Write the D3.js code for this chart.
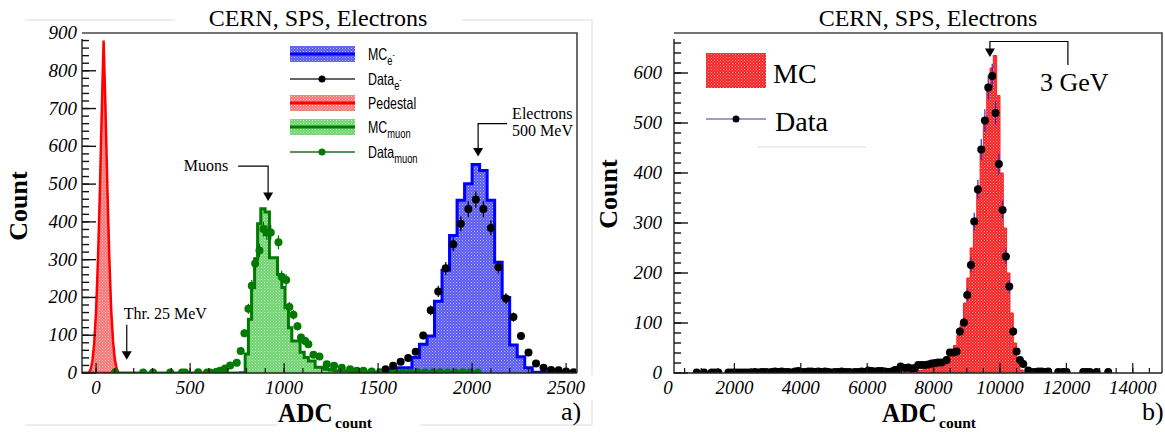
<!DOCTYPE html>
<html>
<head>
<meta charset="utf-8">
<title>CERN, SPS, Electrons</title>
<script src="https://cdn.jsdelivr.net/npm/d3@7/dist/d3.min.js"></script>
<style>
  html, body { margin: 0; padding: 0; background: #fff; }
  svg { display: block; }
</style>
</head>
<body>
<svg id="chart" width="1165" height="432"></svg>
<script>
// ---- panel a) : 500 MeV electrons, muons, pedestal ----
const xTicksA = [0, 500, 1000, 1500, 2000, 2500];
const yTicksA = [0, 100, 200, 300, 400, 500, 600, 700, 800, 900];

const pedestalAdc   = [-40, -30, -20, -10, 0, 10, 20, 30, 40, 50, 60, 70, 80, 90, 100, 110, 120];
const pedestalCount = [0, 8, 30, 80, 165, 300, 480, 690, 880, 700, 490, 310, 170, 85, 35, 10, 0];

// MC muon histogram, variable bin edges
const muonMcEdges = [-75, 793, 810, 827, 843, 859, 876, 899, 922, 943, 965, 988, 1005, 1023, 1041, 1063,
  1085, 1107, 1129, 1147, 1165, 1190, 1215, 1240, 1265, 1300, 1350, 1400, 1450, 1500, 1550, 1600, 2050];
const muonMcCount = [0, 50, 142, 226, 302, 395, 435, 426, 305, 305, 261, 226, 173, 120, 85, 85,
  55, 41, 32, 32, 15, 15, 10, 8, 6, 5, 4, 3, 2, 2, 1, 0];

const muonDataAdc = [101, 250, 303, 394, 457, 473, 543, 590, 606, 640, 660, 686, 713, 748, 769, 789, 810, 828,
  846, 869, 890, 908, 929, 970, 987, 1011, 1028, 1050, 1071, 1090, 1112, 1129, 1156, 1188, 1227, 1266, 1307,
  1351, 1387, 1422, 1466, 1510, 1550, 1590, 1630, 1670, 1710, 1750, 1790, 1830, 1870, 1910, 1950, 1990, 2030];
const muonDataCount = [2, 1, 1, 1, 1, 1, 2, 1, 1, 3, 6, 12, 20, 27, 58, 105, 170, 231,
  290, 324, 381, 372, 372, 346, 255, 246, 175, 154, 124, 94, 85, 76, 48, 44, 23, 19, 14,
  10, 6, 6, 4, 2, 1, 2, 1, 1, 2, 1, 1, 2, 1, 1, 2, 1, 1];

// MC electrons, 40 ADC bins
const eMcEdges = [760, 800, 840, 880, 920, 960, 1000, 1040, 1080, 1120, 1160, 1200, 1240, 1280, 1320, 1360,
  1400, 1440, 1480, 1520, 1560, 1600, 1640, 1680, 1720, 1760, 1800, 1840, 1880, 1920, 1960, 2000, 2040,
  2080, 2120, 2160, 2200, 2240, 2280, 2320, 2360, 2400, 2440, 2480, 2520, 2560];
const eMcCount = [0, 0, 0, 0, 0, 0, 0, 0, 0, 0, 0, 0, 0, 0, 0, 0, 0, 0,
  0, 1, 10, 14, 14, 41, 76, 98, 190, 272, 364, 457, 501, 552, 536,
  457, 293, 200, 74, 43, 14, 2, 1, 0, 0, 0, 0];

const eDataAdc = [1540, 1580, 1620, 1660, 1700, 1740, 1780, 1820, 1860, 1900, 1940, 1980, 2020,
  2060, 2100, 2140, 2180, 2220, 2260, 2300, 2340, 2380, 2420, 2460, 2500, 2540];
const eDataCount = [10, 19, 30, 40, 56, 99, 166, 216, 277, 341, 395, 434, 459,
  434, 384, 280, 197, 148, 98, 54, 25, 14, 8, 7, 4, 2];

// ---- panel b) : 3 GeV electrons ----
const xTicksB = [0, 2000, 4000, 6000, 8000, 10000, 12000, 14000];
const yTicksB = [0, 100, 200, 300, 400, 500, 600];

const mcEdgesB = [7000, 7100, 7200, 7300, 7400, 7500, 7600, 7700, 7800, 7900, 8000, 8100, 8200, 8300,
  8400, 8500, 8600, 8700, 8800, 8900, 9000, 9100, 9200, 9300, 9400, 9500, 9600, 9700, 9800, 9900,
  10000, 10100, 10200, 10300, 10400, 10500, 10600, 10700, 10800];
const mcCountB = [2, 3, 3, 4, 4, 5, 6, 8, 9, 11, 13, 16, 20, 26,
  33, 40, 55, 75, 100, 140, 190, 250, 310, 375, 450, 510, 570, 610, 635, 555,
  400, 290, 200, 120, 60, 25, 6, 1];

const dataAdcB = [863, 1084, 1315, 1415, 1516, 1817, 1917, 2017, 2117, 2218, 2318, 2418, 2519, 2619, 2720,
  2820, 2921, 3021, 3122, 3222, 3322, 3423, 3523, 3624, 3724, 3825, 3925, 4026, 4126, 4226, 4327, 4427,
  4527, 4628, 4728, 4828, 4929, 5029, 5130, 5230, 5330, 5431, 5531, 5632, 5732, 5832, 5932, 6033, 6133,
  6233, 6334, 6434, 6534, 6635, 6735, 6835, 6936, 7006, 7137, 7237, 7338, 7438, 7538, 7638, 7738, 7839,
  7939, 8040, 8140, 8241, 8391, 8491, 8592, 8692, 8792, 8913, 9013, 9124, 9224, 9334, 9435, 9545, 9646,
  9766, 9867, 9967, 10078, 10178, 10279, 10398, 10500, 10600, 10700, 10851, 10951, 11052, 11152, 11252,
  11353, 11453, 11754, 11854, 11904, 12005, 12507, 12607, 12708, 12909, 13260];
const dataCountB = [1, 1, 1, 1, 1, 1, 1, 1, 1, 1, 1, 1, 1, 2, 1,
  2, 2, 1, 2, 3, 2, 3, 2, 2, 1, 3, 4, 2, 2, 3, 3, 2,
  3, 2, 3, 2, 1, 2, 2, 3, 2, 2, 1, 2, 2, 3, 2, 5, 4,
  3, 4, 4, 3, 2, 3, 6, 5, 13, 10, 11, 9, 10, 16, 16, 16, 17,
  19, 20, 21, 21, 26, 41, 41, 43, 83, 101, 156, 216, 303, 367, 447, 505, 571,
  594, 520, 418, 326, 233, 173, 83, 43, 26, 18, 5, 2, 2, 3, 3,
  2, 3, 2, 1, 2, 2, 2, 2, 2, 2, 2];

const serif = "'Liberation Serif', 'Times New Roman', serif";
const sans = "'Liberation Sans', Arial, sans-serif";

const svg = d3.select('#chart');
const defs = svg.append('defs');

// sparse white dots laid over a solid fill, like ROOT's dotted fill style
const dots = defs.append('pattern').attr('id', 'dots')
  .attr('patternUnits', 'userSpaceOnUse').attr('width', 3).attr('height', 3);
dots.append('rect').attr('x', 0).attr('y', 0).attr('width', 1).attr('height', 1)
  .attr('fill', '#fff').attr('fill-opacity', 0.55);
dots.append('rect').attr('x', 1.5).attr('y', 1.5).attr('width', 1).attr('height', 1)
  .attr('fill', '#fff').attr('fill-opacity', 0.35);

function filled(parent, d, color, stroke, sw) {
  parent.append('path').attr('d', d).attr('fill', color);
  parent.append('path').attr('d', d).attr('fill', 'url(#dots)');
  if (stroke) parent.append('path').attr('d', d).attr('fill', 'none')
    .attr('stroke', stroke).attr('stroke-width', sw);
}

function stepPath(edges, counts, x, y) {
  let d = 'M' + x(edges[0]) + ',' + y(0);
  counts.forEach((c, i) => {
    d += 'L' + x(edges[i]) + ',' + y(c) + 'L' + x(edges[i + 1]) + ',' + y(c);
  });
  return d + 'L' + x(edges[edges.length - 1]) + ',' + y(0);
}

function makePanel(id, box, xDomain, yDomain) {
  const x = d3.scaleLinear().domain(xDomain).range([box.left, box.right]);
  const y = d3.scaleLinear().domain(yDomain).range([box.bottom, box.top]);
  defs.append('clipPath').attr('id', id).append('rect')
    .attr('x', box.left).attr('y', box.top - 2)
    .attr('width', box.right - box.left).attr('height', box.bottom - box.top + 2);
  const g = svg.append('g');
  const plot = g.append('g').attr('clip-path', 'url(#' + id + ')');
  return { x, y, g, plot, box };
}

function drawPoints(p, xs, ys, fill, errColor, r) {
  const pts = xs.map((v, i) => [v, ys[i]]);
  p.plot.append('g').selectAll('line').data(pts).enter().append('line')
    .attr('x1', d => p.x(d[0])).attr('x2', d => p.x(d[0]))
    .attr('y1', d => p.y(Math.max(0, d[1] - Math.sqrt(d[1]))))
    .attr('y2', d => p.y(d[1] + Math.sqrt(d[1])))
    .attr('stroke', errColor).attr('stroke-width', 1.2);
  p.plot.append('g').selectAll('circle').data(pts).enter().append('circle')
    .attr('cx', d => p.x(d[0])).attr('cy', d => p.y(d[1])).attr('r', r)
    .attr('fill', fill);
}

function drawAxes(p, xMajor, xMinorStep, yMajor, yMinorStep, labelGap) {
  const { x, y, g, box } = p;
  const [x0, x1] = x.domain(), [y0, y1] = y.domain();
  // minor ticks
  d3.range(Math.ceil(x0 / xMinorStep) * xMinorStep, x1, xMinorStep).forEach(v => {
    g.append('line').attr('x1', x(v)).attr('x2', x(v)).attr('y1', box.bottom).attr('y2', box.bottom - 5)
      .attr('stroke', '#111').attr('stroke-width', 1.2);
  });
  d3.range(y0, y1, yMinorStep).forEach(v => {
    g.append('line').attr('x1', box.left).attr('x2', box.left + 7).attr('y1', y(v)).attr('y2', y(v))
      .attr('stroke', '#111').attr('stroke-width', 1.4);
  });
  xMajor.filter(v => v > x0 && v < x1).forEach(v => {
    g.append('line').attr('x1', x(v)).attr('x2', x(v)).attr('y1', box.bottom).attr('y2', box.bottom - 10)
      .attr('stroke', '#111').attr('stroke-width', 1.2);
  });
  yMajor.filter(v => v < y1).forEach(v => {
    g.append('line').attr('x1', box.left).attr('x2', box.left + 14).attr('y1', y(v)).attr('y2', y(v))
      .attr('stroke', '#111').attr('stroke-width', 1.4);
  });
  // frame
  g.append('path')
    .attr('d', 'M' + box.left + ',' + box.top + 'H' + box.right + 'V' + box.bottom)
    .attr('fill', 'none').attr('stroke', '#474747').attr('stroke-width', 1.6);
  g.append('path')
    .attr('d', 'M' + box.left + ',' + (box.top + 6) + 'V' + box.bottom + 'H' + box.right)
    .attr('fill', 'none').attr('stroke', '#222').attr('stroke-width', 1.4);
  // labels
  g.append('g').selectAll('text').data(xMajor).enter().append('text')
    .attr('x', d => x(d)).attr('y', box.bottom + 21)
    .attr('text-anchor', 'middle').attr('font-family', serif).attr('font-style', 'italic')
    .attr('font-size', 19).text(d => d);
  g.append('g').selectAll('text').data(yMajor).enter().append('text')
    .attr('x', box.left - labelGap).attr('y', d => y(d) + 6)
    .attr('text-anchor', 'end').attr('font-family', serif).attr('font-style', 'italic')
    .attr('font-size', 19).text(d => d);
}

function arrowHead(g, tx, ty) {
  g.append('path').attr('d', 'M' + (tx - 5) + ',' + (ty - 8.5) + 'H' + (tx + 5) + 'L' + tx + ',' + ty + 'Z')
    .attr('fill', '#000');
}

function axisTitles(g, box, countX, countY, labelX, tagX, tag) {
  g.append('text').attr('transform', 'translate(' + countX + ',' + countY + ') rotate(-90)')
    .attr('text-anchor', 'middle').attr('font-family', serif).attr('font-weight', 'bold')
    .attr('font-size', 26).text('Count');
  const t = g.append('g').attr('transform', 'translate(' + labelX + ',422)');
  t.append('text').attr('transform', 'scale(0.9,1)').attr('font-family', serif)
    .attr('font-weight', 'bold').attr('font-size', 28).text('ADC');
  t.append('text').attr('x', 57).attr('y', 6).attr('font-family', serif)
    .attr('font-weight', 'bold').attr('font-size', 15.5).text('count');
  g.append('text').attr('x', tagX).attr('y', 420).attr('font-family', serif)
    .attr('font-size', 26).text(tag);
}

// faint frame remnants from the original page
[[25, 20, 175, 20], [462, 20, 592, 20], [592, 20, 592, 375], [592, 400, 592, 425],
 [25, 425, 277, 425], [420, 425, 592, 425], [757, 147, 866, 147]].forEach(l => {
  svg.append('line').attr('x1', l[0]).attr('y1', l[1]).attr('x2', l[2]).attr('y2', l[3])
    .attr('stroke', '#dcdcdc').attr('stroke-width', 1);
});

// ================= panel a =================
const A = makePanel('clipA', { left: 82, right: 577, top: 33, bottom: 373 }, [-75, 2558], [0, 900]);

filled(A.plot, stepPath(eMcEdges, eMcCount, A.x, A.y), '#5c5cf2', '#0000ff', 3);
filled(A.plot, stepPath(muonMcEdges, muonMcCount, A.x, A.y), '#72d472', '#007a00', 3);
const pedArea = d3.area().x((d, i) => A.x(pedestalAdc[i])).y0(A.y(0)).y1(d => A.y(d));
filled(A.plot, pedArea(pedestalCount), '#f27a7a', '#ff0000', 2.5);
drawPoints(A, muonDataAdc, muonDataCount, '#007a00', '#006400', 4);
drawPoints(A, eDataAdc, eDataCount, '#000', '#000', 4);

drawAxes(A, xTicksA, 100, yTicksA, 20, 5);

svg.append('text').attr('x', 318).attr('y', 26).attr('text-anchor', 'middle')
  .attr('font-family', serif).attr('font-size', 24).text('CERN, SPS, Electrons');
axisTitles(svg, A.box, 27, 206, 278, 561, 'a)');

// annotations, panel a
(function () {
  const g = svg.append('g').attr('fill', 'none').attr('stroke', '#000').attr('stroke-width', 1.2);
  const t = svg.append('g').attr('font-family', serif).attr('font-size', 16);
  // Muons
  let tx = A.x(915), ty = A.y(455);
  g.append('path').attr('d', 'M' + (tx - 30) + ',' + (ty - 35) + 'H' + tx + 'V' + (ty - 8));
  arrowHead(svg, tx, ty);
  t.append('text').attr('x', tx - 40).attr('y', ty - 30).attr('text-anchor', 'end').text('Muons');
  // Electrons 500 MeV
  tx = A.x(2032); ty = A.y(573);
  g.append('path').attr('d', 'M' + (tx + 29) + ',' + (ty - 33) + 'H' + tx + 'V' + (ty - 8));
  arrowHead(svg, tx, ty);
  t.append('text').attr('x', tx + 34).attr('y', ty - 38).text('Electrons');
  t.append('text').attr('x', tx + 34).attr('y', ty - 21).text('500 MeV');
  // threshold
  tx = A.x(163); ty = A.y(35);
  g.append('path').attr('d', 'M' + tx + ',' + (ty - 35) + 'V' + (ty - 8));
  arrowHead(svg, tx, ty);
  t.append('text').attr('x', tx - 3).attr('y', ty - 41).text('Thr. 25 MeV');
})();

// legend, panel a
(function () {
  const rows = [
    { y: 54, fill: '#5c5cf2', line: '#0000ff', lw: 3, main: 'MC', sub: 'e', sup: '-' },
    { y: 79, dot: '#000', line: '#333', lw: 1.5, main: 'Data', sub: 'e', sup: '-' },
    { y: 103, fill: '#f27a7a', line: '#ff0000', lw: 3, main: 'Pedestal' },
    { y: 127, fill: '#72d472', line: '#007a00', lw: 3, main: 'MC', sub: 'muon' },
    { y: 152, dot: '#007a00', line: '#1f6f1f', lw: 1.5, main: 'Data', sub: 'muon' }
  ];
  const lg = svg.append('g');
  rows.forEach(r => {
    if (r.fill) {
      const sw = 'M290,' + (r.y - 8) + 'h65v16h-65Z';
      filled(lg, sw, r.fill, null, 0);
    }
    lg.append('line').attr('x1', 290).attr('x2', 355).attr('y1', r.y).attr('y2', r.y)
      .attr('stroke', r.line).attr('stroke-width', r.lw);
    if (r.dot) lg.append('circle').attr('cx', 322).attr('cy', r.y).attr('r', 3.5).attr('fill', r.dot);
    const t = lg.append('text').attr('transform', 'translate(368,' + (r.y + 6) + ') scale(0.75,1)')
      .attr('font-family', sans).attr('font-size', 16.5);
    t.append('tspan').text(r.main);
    if (r.sub) t.append('tspan').attr('dy', 5).attr('font-size', 12.5).text(r.sub);
    if (r.sup) t.append('tspan').attr('dy', -7).attr('font-size', 9).text(r.sup);
  });
})();

// ================= panel b =================
const B = makePanel('clipB', { left: 674, right: 1162, top: 33, bottom: 373 }, [180, 14880], [0, 680]);

filled(B.plot, stepPath(mcEdgesB, mcCountB, B.x, B.y), '#f42828', '#ff2020', 1);
drawPoints(B, dataAdcB, dataCountB, '#000', '#2a2ad0', 4);

drawAxes(B, xTicksB, 500, yTicksB, 20, 12);

svg.append('text').attr('x', 928).attr('y', 26).attr('text-anchor', 'middle')
  .attr('font-family', serif).attr('font-size', 24).text('CERN, SPS, Electrons');
axisTitles(svg, B.box, 617, 194, 882, 1142, 'b)');

// annotation, panel b
(function () {
  const tx = B.x(9696), ty = B.y(632);
  svg.append('path').attr('d', 'M' + tx + ',' + (ty - 8) + 'V' + (ty - 15.5) + 'H' + (tx + 78) + 'V' + (ty + 8))
    .attr('fill', 'none').attr('stroke', '#000').attr('stroke-width', 1.2);
  arrowHead(svg, tx, ty);
  svg.append('text').attr('x', tx + 50).attr('y', ty + 34).attr('font-family', serif)
    .attr('font-size', 26).text('3 GeV');
})();

// legend, panel b
(function () {
  const lg = svg.append('g').attr('font-family', serif).attr('font-size', 28);
  filled(lg, 'M706,53h60v35h-60Z', '#f42828', null, 0);
  lg.append('text').attr('x', 773).attr('y', 83).text('MC');
  lg.append('line').attr('x1', 706).attr('x2', 766).attr('y1', 119).attr('y2', 119)
    .attr('stroke', '#3a3aa8').attr('stroke-width', 1.2);
  lg.append('circle').attr('cx', 736).attr('cy', 119).attr('r', 3.5).attr('fill', '#000');
  lg.append('text').attr('x', 775).attr('y', 131).text('Data');
})();
</script>
</body>
</html>
